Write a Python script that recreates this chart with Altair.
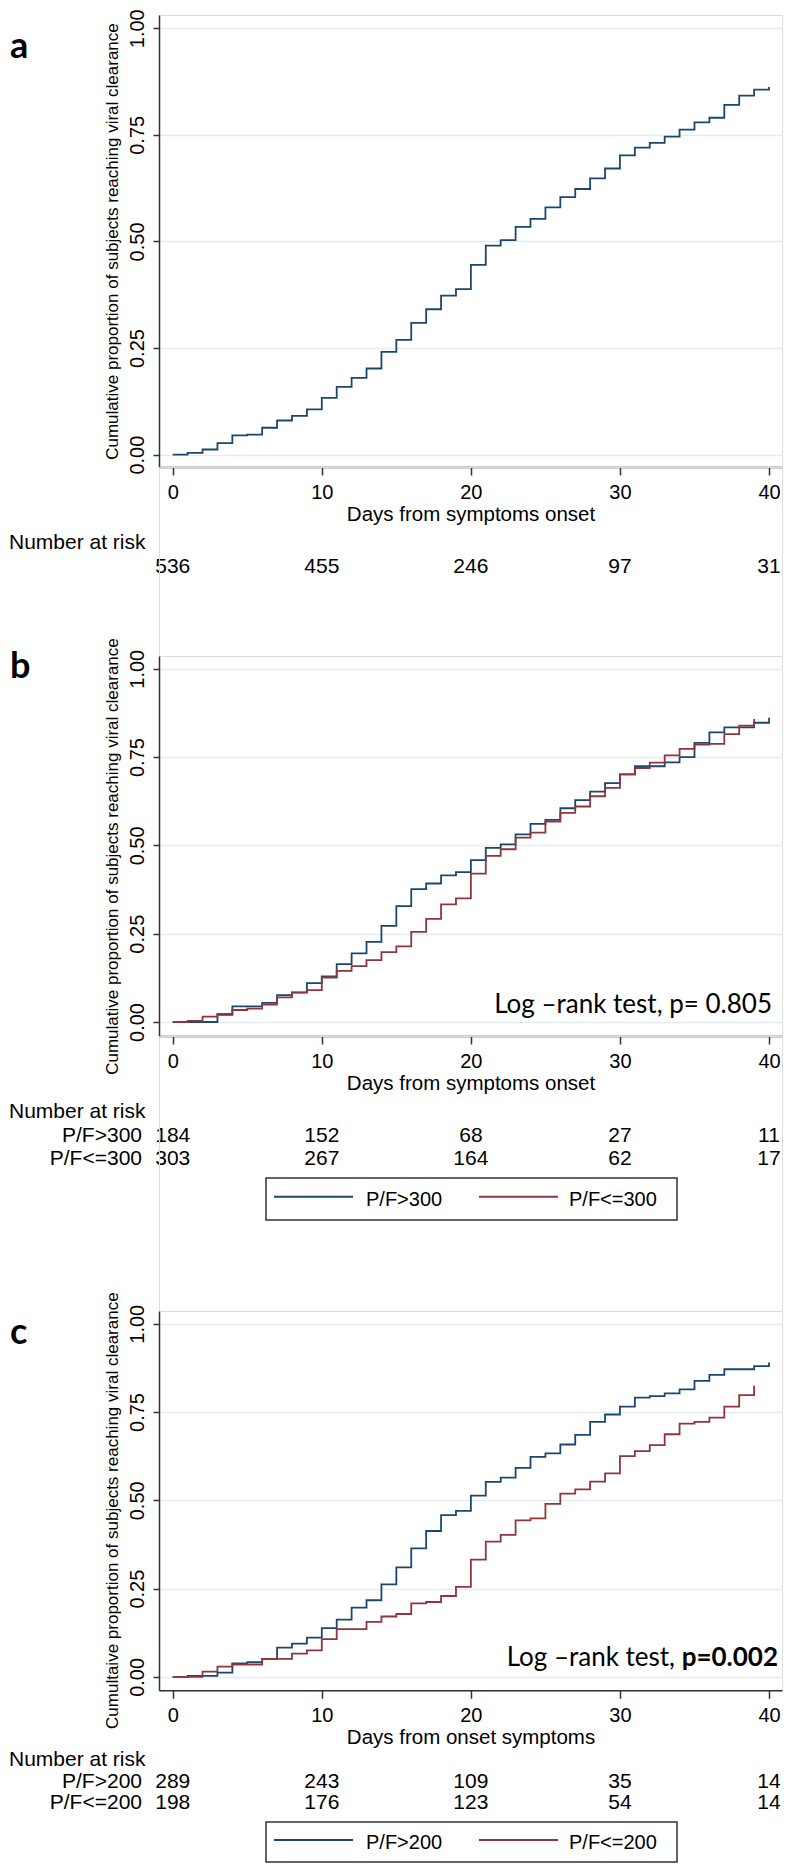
import altair as alt
import pandas as pd

# ---------------- data ----------------
days_40 = list(range(0, 41))
days_39 = list(range(0, 40))
x_ticks = [0, 10, 20, 30, 40]
y_ticks = [0, 0.25, 0.5, 0.75, 1.0]

prop_a = [0, 0.004, 0.012, 0.027, 0.045, 0.047, 0.063, 0.080, 0.091, 0.106,
          0.133, 0.159, 0.180, 0.202, 0.241, 0.269, 0.309, 0.341, 0.373, 0.388,
          0.445, 0.490, 0.503, 0.534, 0.553, 0.580, 0.604, 0.623, 0.648, 0.671,
          0.702, 0.720, 0.731, 0.746, 0.762, 0.779, 0.790, 0.820, 0.842, 0.856,
          0.862]

prop_b_hi = [0, 0, 0, 0.020, 0.044, 0.044, 0.054, 0.076, 0.084, 0.110,
             0.129, 0.164, 0.194, 0.227, 0.272, 0.328, 0.376, 0.392, 0.415, 0.424,
             0.458, 0.493, 0.503, 0.531, 0.561, 0.572, 0.605, 0.628, 0.652, 0.676,
             0.701, 0.724, 0.724, 0.735, 0.750, 0.790, 0.820, 0.834, 0.834, 0.847,
             0.861]
prop_b_lo = [0, 0.003, 0.015, 0.023, 0.034, 0.038, 0.049, 0.070, 0.083, 0.090,
             0.126, 0.145, 0.158, 0.175, 0.198, 0.214, 0.255, 0.292, 0.333, 0.350,
             0.420, 0.470, 0.489, 0.522, 0.536, 0.567, 0.592, 0.610, 0.639, 0.663,
             0.701, 0.719, 0.734, 0.755, 0.773, 0.785, 0.787, 0.815, 0.839, 0.858]

prop_c_hi = [0, 0.003, 0.003, 0.012, 0.038, 0.042, 0.051, 0.083, 0.094, 0.111,
             0.138, 0.162, 0.196, 0.217, 0.262, 0.310, 0.364, 0.413, 0.458, 0.470,
             0.513, 0.552, 0.564, 0.592, 0.623, 0.633, 0.658, 0.685, 0.722, 0.743,
             0.765, 0.791, 0.795, 0.803, 0.814, 0.838, 0.855, 0.871, 0.871, 0.880,
             0.890]
prop_c_lo = [0, 0, 0.015, 0.029, 0.035, 0.035, 0.051, 0.051, 0.066, 0.075,
             0.107, 0.135, 0.135, 0.156, 0.171, 0.178, 0.208, 0.212, 0.229, 0.255,
             0.332, 0.383, 0.402, 0.443, 0.449, 0.490, 0.519, 0.531, 0.553, 0.576,
             0.625, 0.639, 0.656, 0.687, 0.717, 0.722, 0.734, 0.765, 0.798, 0.824]

risk_days = [0, 10, 20, 30, 40]
risk_a = [536, 455, 246, 97, 31]
risk_b_hi = [184, 152, 68, 27, 11]
risk_b_lo = [303, 267, 164, 62, 17]
risk_c_hi = [289, 243, 109, 35, 14]
risk_c_lo = [198, 176, 123, 54, 14]

groups_b = ["P/F>300", "P/F<=300"]
groups_c = ["P/F>200", "P/F<=200"]

ytitle_ab = "Cumulative proportion of subjects reaching viral clearance"
ytitle_c = "Cumultaive proportion of subjects reaching viral clearance"
xtitle_ab = "Days from symptoms onset"
xtitle_c = "Days from onset symptoms"

# ---------------- styling / layout ----------------
W = 623
XDOM = [-0.92, 40.87]
BLUE, RED = "#1a476f", "#90353b"
SANS = "Liberation Sans"
CAL = "Lato"
AX = "#333333"
LEFT = -150


def x_enc(title):
    return alt.X(
        "day:Q",
        scale=alt.Scale(domain=XDOM, nice=False, zero=False),
        axis=alt.Axis(
            values=x_ticks, title=title, labelAngle=0, labelFontSize=20,
            labelPadding=7.5, labelBaseline="top", labelFont=SANS,
            labelColor="black", tickSize=8, tickWidth=1.5, tickColor=AX,
            domainColor=AX, domainWidth=1.5, grid=False,
            titleFont=SANS, titleFontSize=20.5, titleFontWeight="normal",
            titleColor="black", titleY=53.5, titleBaseline="alphabetic",
        ),
    )


def y_enc(title, h, dom, dy):
    return alt.Y(
        "prop:Q",
        scale=alt.Scale(domain=dom, nice=False, zero=False),
        axis=alt.Axis(
            values=y_ticks, format=".2f", title=title, labelAngle=270,
            labelAlign="center", labelBaseline="bottom", labelFontSize=20,
            labelPadding=6, labelFont=SANS, labelColor="black",
            tickSize=6, tickWidth=1.5, tickColor=AX, domainColor=AX,
            domainWidth=1.5, grid=True, gridColor="#e3ecef", gridWidth=1.5,
            titleAngle=270, titleX=-47, titleY=h / 2 + dy, titleAlign="center",
            titleBaseline="middle", titleFont=SANS, titleFontSize=17,
            titleFontWeight="normal", titleColor="black",
        ),
    )


def txt(s, **kw):
    return alt.Chart(pd.DataFrame({"t": [s]})).mark_text(**kw)


def panel(series, h, dom, ytitle, xtitle, ydy, letter, letter_y,
          label_y, rows, legend=None, logrank=None):
    xe = x_enc(xtitle)
    ye = y_enc(ytitle, h, dom, ydy)
    layers = []
    for days, props, col in series:
        df = pd.DataFrame({"day": days, "prop": props})
        layers.append(
            alt.Chart(df).mark_line(interpolate="step-after", color=col,
                                    strokeWidth=1.8).encode(x=xe, y=ye)
        )
    # panel letter
    layers.append(
        txt(letter, font=CAL, fontWeight="bold", fontSize=36, align="left",
            baseline="alphabetic", color="black").encode(
            x=alt.value(LEFT + 1), y=alt.value(letter_y), text="t:N")
    )
    # number-at-risk table
    layers.append(
        txt("Number at risk", font=SANS, fontSize=21, align="left",
            baseline="alphabetic", color="black").encode(
            x=alt.value(LEFT), y=alt.value(h + label_y), text="t:N")
    )
    for lab, counts, off in rows:
        dfr = pd.DataFrame({"day": risk_days, "n": counts})
        layers.append(
            alt.Chart(dfr).mark_text(font=SANS, fontSize=21, align="center",
                                     baseline="alphabetic", color="black").encode(
                x=xe, y=alt.value(h + off), text="n:Q")
        )
        if lab:
            layers.append(
                txt(lab, font=SANS, fontSize=21, align="right",
                    baseline="alphabetic", color="black").encode(
                    x=alt.value(-17), y=alt.value(h + off), text="t:N")
            )
    # legend box
    if legend:
        names, top, bot, line_y, lab_y = legend
        layers.append(
            alt.Chart(pd.DataFrame({"t": [0]})).mark_rect(
                fill="white", stroke=AX, strokeWidth=1.5).encode(
                x=alt.value(107), x2=alt.value(518),
                y=alt.value(h + top), y2=alt.value(h + bot))
        )
        for i, (nm, col) in enumerate(zip(names, [BLUE, RED])):
            layers.append(
                alt.Chart(pd.DataFrame({"t": [nm]})).mark_rule(
                    color=col, strokeWidth=2).encode(
                    x=alt.value(115 + 205 * i), x2=alt.value(194 + 205 * i),
                    y=alt.value(h + line_y))
            )
            layers.append(
                txt(nm, font=SANS, fontSize=20, align="left",
                    baseline="alphabetic", color="black").encode(
                    x=alt.value(207 + 203 * i), y=alt.value(h + lab_y),
                    text="t:N")
            )
    if logrank:
        for s, xr, yb, wt in logrank:
            layers.append(
                txt(s, font=CAL, fontSize=26, fontWeight=wt, align="right",
                    baseline="alphabetic", color="black").encode(
                    x=alt.value(xr), y=alt.value(yb), text="t:N")
            )
    return alt.layer(*layers).properties(width=W, height=h)


h_a, h_b, h_c = 452, 380, 379.3

pa = panel([(days_40, prop_a, BLUE)], h_a, [-0.029, 1.031], ytitle_ab,
           xtitle_ab, 0, "a", 43, 82, [(None, risk_a, 106)])

pb = panel([(days_40, prop_b_hi, BLUE), (days_39, prop_b_lo, RED)], h_b,
           [-0.0396, 1.036], ytitle_ab, xtitle_ab, 10, "b", 22, 81.5,
           [(groups_b[0], risk_b_hi, 105.5), (groups_b[1], risk_b_lo, 128.5)],
           legend=(groups_b, 142, 184, 160.7, 170),
           logrank=[("Log \u2013rank test, p= 0.805", 613, 356.7, "normal")])

pc = panel([(days_40, prop_c_hi, BLUE), (days_39, prop_c_lo, RED)], h_c,
           [-0.038, 1.036], ytitle_c, xtitle_c, 9.5, "c", 33, 76,
           [(groups_c[0], risk_c_hi, 97.5), (groups_c[1], risk_c_lo, 119)],
           legend=(groups_c, 131.7, 171.7, 149.7, 158.7),
           logrank=[("Log \u2013rank test,", 516, 355, "normal"),
                    ("p=0.002", 619, 355, "bold")])


def spacer(hh):
    return alt.Chart(pd.DataFrame({"s": [0]})).mark_point(opacity=0).encode(
        x=alt.value(0), y=alt.value(0)).properties(width=W, height=hh)


chart = alt.vconcat(pa, spacer(189), pb, spacer(275), pc,
                    spacing=0, bounds="flush").properties(
    padding=0, background="white"
).configure_view(strokeWidth=0).configure(font=SANS)

chart.save("out.html", embed_options={"renderer": "svg", "actions": False})
